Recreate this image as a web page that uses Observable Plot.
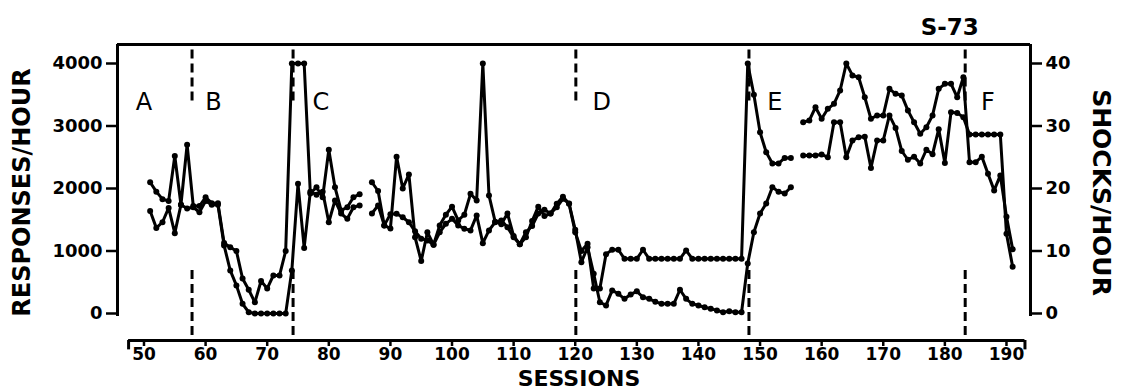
<!DOCTYPE html>
<html><head><meta charset="utf-8">
<script src="https://cdn.jsdelivr.net/npm/d3@7"></script>
<script src="https://cdn.jsdelivr.net/npm/@observablehq/plot@0.6"></script>
<style>body{margin:0;background:#fff;} #chart{width:1123px;height:390px;}</style>
</head><body><div id="chart"></div>
<script>
const sessions = d3.range(51, 192);
const seriesA = [
 2100,1950,1830,1800,2520,1740,2700,1720,1720,1860,
 1765,1765,1130,1060,1000,560,380,180,520,400,
 610,610,1000,4000,4000,4000,1920,2020,1860,2620,
 2020,1650,1700,1860,1910,null,2100,1960,1410,1360,
 2510,2000,2225,1220,840,1300,1100,1410,1580,1710,
 1490,1580,1915,1810,4000,1890,1470,1430,1600,1240,
 1110,1220,1480,1710,1560,1600,1755,1870,1755,1300,
 1000,1115,400,400,950,1020,1020,875,875,875,
 1020,875,875,875,875,875,875,1010,875,875,
 875,875,875,875,875,875,875,4000,3500,2900,
 2580,2400,2400,2490,2490,null,3060,3090,3300,3115,
 3275,3355,3570,4000,3810,3780,3460,3115,3170,3170,
 3595,3515,3490,3250,3060,2875,2980,3170,3595,3675,
 3675,3460,3780,2420,2420,2510,2235,1970,2210,1550,
 1030
];
const seriesB = [
 1640,1370,1460,1690,1285,1740,1680,1700,1620,1800,
 1740,1740,1090,690,450,155,20,0,0,0,
 0,0,0,690,2075,1050,1950,1900,1950,1460,
 1810,1600,1515,1700,1730,null,1600,1730,1410,1590,
 1595,1540,1460,1315,1195,1170,1100,1300,1435,1515,
 1410,1355,1330,1570,1125,1330,1460,1490,1380,1220,
 1110,1300,1400,1600,1660,1600,1700,1835,1760,1340,
 820,1060,635,180,130,370,315,235,305,355,
 260,235,190,155,155,155,380,235,155,130,
 100,75,50,20,35,20,20,800,1300,1600,
 1760,2020,1950,1920,2020,null,2530,2530,2530,2545,
 2500,3060,3060,2500,2770,2820,2830,2330,2770,2770,
 3170,2970,2600,2460,2510,2400,2620,2550,2950,2410,
 3220,3210,3140,2865,2865,2865,2865,2865,2865,1275,
 750
];
const phaseBounds = [57.8, 74.2, 120.1, 148.2, 183.3];
const phaseLabels = ["A","B","C","D","E","F"];
const phaseLabelAt = [50, 61.3, 78.7, 124.3, 152.4, 187];
const xTicks = d3.range(50, 191, 10);
const yTicks = [0, 1000, 2000, 3000, 4000];

const rows = sessions.flatMap((s, i) => [
  {s, v: seriesA[i], k: "A"},
  {s, v: seriesB[i], k: "B"}
]);

const X0 = 45.7, X1 = 193.9, YB = -432, YT = 4304;
const font = "'DejaVu Sans', sans-serif";

const chart = Plot.plot({
  width: 1123, height: 390,
  marginLeft: 117, marginRight: 93, marginTop: 44, marginBottom: 50,
  x: {domain: [X0, X1]},
  y: {domain: [YB, YT]},
  style: {fontFamily: font, fontSize: "18px", fontWeight: "bold", color: "black", background: "white", overflow: "visible"},
  marks: [
    Plot.ruleY([YT], {x1: X0, x2: X1, stroke: "black", strokeWidth: 3}),
    Plot.ruleX([X0], {y1: -48, y2: YT, stroke: "black", strokeWidth: 3}),
    Plot.ruleX([X1], {y1: -48, y2: YT, stroke: "black", strokeWidth: 3}),
    Plot.ruleY([YB], {x1: 47.5, x2: 193, stroke: "black", strokeWidth: 3}),
    Plot.ruleX([47.5, 193], {y1: YB, y2: YB - 150, stroke: "black", strokeWidth: 3}),
    Plot.axisX({ticks: xTicks, tickFormat: d3.format("d"), tickSize: 6, tickPadding: 1, strokeWidth: 2.5, label: null, fontSize: 17, fontWeight: "bold"}),
    Plot.axisY({anchor: "left", ticks: yTicks, tickFormat: d3.format("d"), tickSize: 11, tickPadding: 4, strokeWidth: 2.5, label: null, fontSize: 18, fontWeight: "bold"}),
    Plot.axisY({anchor: "right", ticks: yTicks, tickFormat: d => String(d / 100), tickSize: 11, tickPadding: 4, strokeWidth: 2.5, label: null, fontSize: 18, fontWeight: "bold"}),
    Plot.ruleX(phaseBounds, {y1: 3400, y2: YT, stroke: "black", strokeWidth: 3, strokeDasharray: "9,5"}),
    Plot.ruleX(phaseBounds, {y1: 690, y2: -380, stroke: "black", strokeWidth: 3, strokeDasharray: "9,5"}),
    Plot.line(rows, {x: "s", y: "v", z: "k", stroke: "black", strokeWidth: 3}),
    Plot.dot(rows, {x: "s", y: "v", r: 3, fill: "black"}),
    Plot.text(phaseLabels, {x: phaseLabelAt, frameAnchor: "top", dy: 48, fontSize: 24, fontWeight: "normal", fill: "black", textAnchor: "middle"}),
    Plot.text(["S-73"], {x: [180.8], frameAnchor: "top", dy: -26, fontSize: 23, fontWeight: "bold", textAnchor: "middle"}),
    Plot.text(["RESPONSES/HOUR"], {frameAnchor: "left", rotate: -90, dx: -95, fontSize: 24, fontWeight: "bold", textAnchor: "middle", lineAnchor: "middle"}),
    Plot.text(["SHOCKS/HOUR"], {frameAnchor: "right", rotate: 90, dx: 70, fontSize: 25, fontWeight: "bold", textAnchor: "middle", lineAnchor: "middle"}),
    Plot.text(["SESSIONS"], {frameAnchor: "bottom", dy: 38, dx: 5, fontSize: 22, fontWeight: "bold", textAnchor: "middle", lineAnchor: "middle"})
  ]
});
document.getElementById("chart").appendChild(chart);
</script>
</body></html>
